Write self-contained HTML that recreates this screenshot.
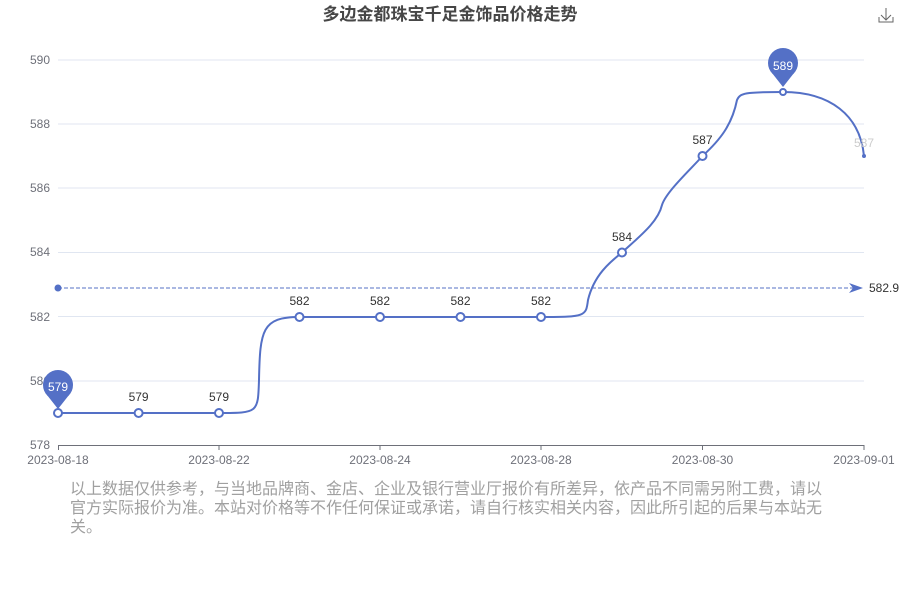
<!DOCTYPE html>
<html><head><meta charset="utf-8"><style>
body{margin:0;background:#fff;width:900px;height:600px;overflow:hidden}
text{font-family:"Liberation Sans","Noto Sans CJK SC",sans-serif}
</style></head><body>
<svg width="900" height="600" xmlns="http://www.w3.org/2000/svg">
<text x="450" y="20" text-anchor="middle" font-size="17" font-weight="bold" fill="#464646">多边金都珠宝千足金饰品价格走势</text>
<g stroke="#666" fill="none" stroke-width="1"><path d="M886 8v12M881 15l5 5 5-5M879 17v5h14v-5"/></g>
<g stroke="#e0e6f1" stroke-width="1">
<line x1="58" x2="864" y1="60" y2="60"/><line x1="58" x2="864" y1="124" y2="124"/><line x1="58" x2="864" y1="188" y2="188"/><line x1="58" x2="864" y1="252.5" y2="252.5"/><line x1="58" x2="864" y1="316.5" y2="316.5"/><line x1="58" x2="864" y1="381" y2="381"/>
</g>
<line x1="58" x2="864" y1="445.5" y2="445.5" stroke="#6e7079"/>
<g stroke="#6e7079"><line x1="58.5" x2="58.5" y1="445" y2="450"/><line x1="219" x2="219" y1="445" y2="450"/><line x1="380" x2="380" y1="445" y2="450"/><line x1="541" x2="541" y1="445" y2="450"/><line x1="702.5" x2="702.5" y1="445" y2="450"/><line x1="864" x2="864" y1="445" y2="450"/></g>
<g font-size="12" fill="#6e7079" text-anchor="end">
<text x="50" y="64">590</text><text x="50" y="128">588</text><text x="50" y="192">586</text><text x="50" y="256">584</text><text x="50" y="321">582</text><text x="50" y="385">580</text><text x="50" y="449">578</text></g>
<g font-size="12" fill="#6e7079" text-anchor="middle">
<text x="58" y="464">2023-08-18</text><text x="219" y="464">2023-08-22</text><text x="380" y="464">2023-08-24</text><text x="541" y="464">2023-08-28</text><text x="702.5" y="464">2023-08-30</text><text x="864" y="464">2023-09-01</text></g>
<line x1="58" x2="856" y1="288" y2="288" stroke="#5470c6" stroke-dasharray="4,2"/>
<circle cx="58" cy="288" r="3.5" fill="#5470c6"/>
<path d="M849 283l14 5-14 5 4-5z" fill="#5470c6"/>
<text x="869" y="292" font-size="12" fill="#333">582.9</text>
<path d="M58 413H219C258 413 258 413 259 380C260 330 262 317 299.5 317H541C586 317 586 316 588 300C594 275 610 262 622 252.5C640 236 658 222 662 205C666 192 690 170 702.5 156C720 140 732 125 737 100C740 93 745 92 783 92C830 92 860 115 864 156" fill="none" stroke="#5470c6" stroke-width="2"/>
<g fill="#fff" stroke="#5470c6" stroke-width="2">
<circle cx="58" cy="413" r="4"/><circle cx="138.6" cy="413" r="4"/><circle cx="219" cy="413" r="4"/><circle cx="299.5" cy="317" r="4"/><circle cx="380" cy="317" r="4"/><circle cx="460.5" cy="317" r="4"/><circle cx="541" cy="317" r="4"/><circle cx="622" cy="252.5" r="4"/><circle cx="702.5" cy="156" r="4"/><circle cx="783" cy="92" r="3"/></g>
<circle cx="864" cy="156" r="2" fill="#5470c6"/>
<g font-size="12" fill="#333" text-anchor="middle">
<text x="138.6" y="401">579</text><text x="219" y="401">579</text><text x="299.5" y="305">582</text><text x="380" y="305">582</text><text x="460.5" y="305">582</text><text x="541" y="305">582</text><text x="622" y="241">584</text><text x="702.5" y="144">587</text><text x="864" y="147" fill="#ccc">587</text></g>
<g fill="#5470c6">
<circle cx="58" cy="385" r="15"/><path d="M47 395L58 409L69 395z"/>
<circle cx="783" cy="63" r="15"/><path d="M772 73L783 87L794 73z"/></g>
<g font-size="12" fill="#fff" text-anchor="middle"><text x="58" y="391">579</text><text x="783" y="70">589</text></g>
<g font-size="16" fill="#a0a0a0" font-family="'Liberation Sans','Noto Sans CJK SC',sans-serif">
<text x="70" y="494">以上数据仅供参考，与当地品牌商、金店、企业及银行营业厅报价有所差异，依产品不同需另附工费，请以</text>
<text x="70" y="513">官方实际报价为准。本站对价格等不作任何保证或承诺，请自行核实相关内容，因此所引起的后果与本站无</text>
<text x="70" y="532">关。</text></g>
</svg>
</body></html>
